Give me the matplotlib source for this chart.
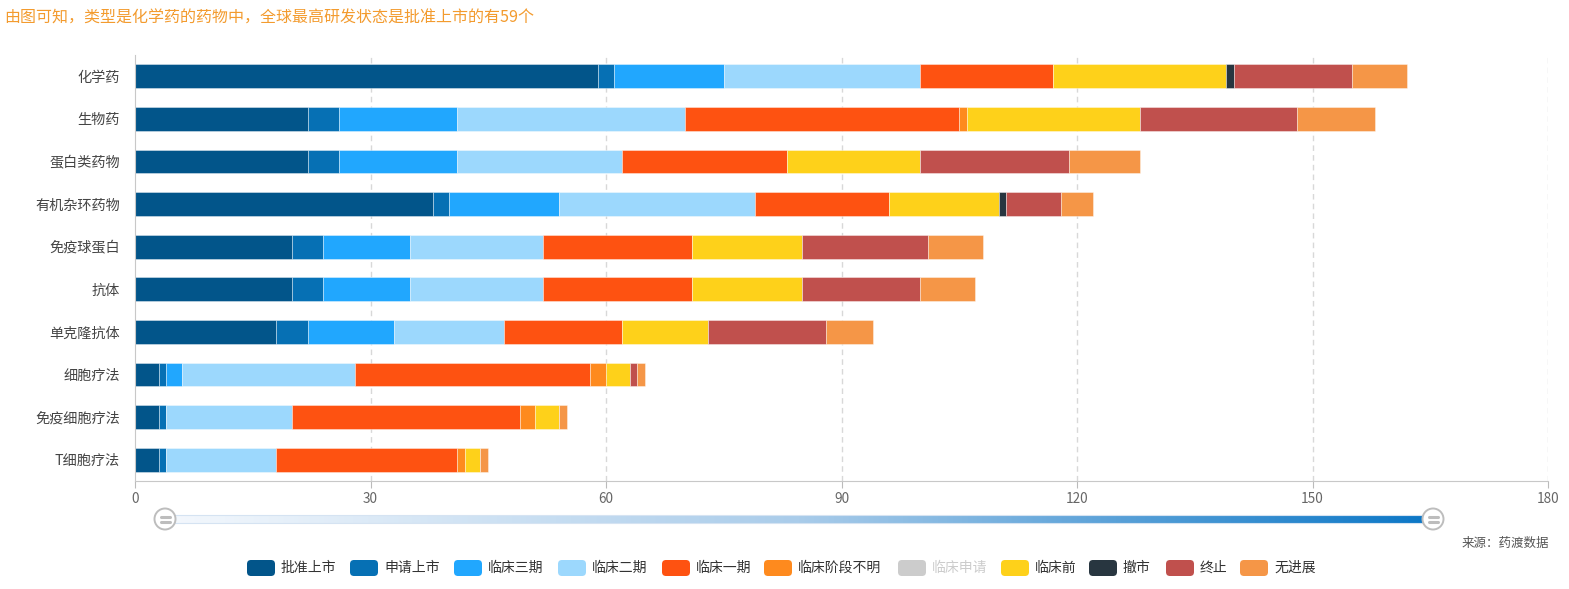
import matplotlib
matplotlib.use("Agg")
import matplotlib.pyplot as plt
import numpy as np
from matplotlib.patches import FancyBboxPatch, Rectangle, Circle
from matplotlib.colors import LinearSegmentedColormap

plt.rcParams['font.family'] = ['Noto Sans CJK SC', 'DejaVu Sans']

# ---------------- data ----------------
categories = ['化学药', '生物药', '蛋白类药物', '有机杂环药物', '免疫球蛋白',
              '抗体', '单克隆抗体', '细胞疗法', '免疫细胞疗法', 'T细胞疗法']
series_names = ['批准上市', '申请上市', '临床三期', '临床二期', '临床一期',
                '临床阶段不明', '临床申请', '临床前', '撤市', '终止', '无进展']
approved      = [59, 22, 22, 38, 20, 20, 18, 3, 3, 3]
applied       = [2, 4, 4, 2, 4, 4, 4, 1, 1, 1]
phase3        = [14, 15, 15, 14, 11, 11, 11, 2, 0, 0]
phase2        = [25, 29, 21, 25, 17, 17, 14, 22, 16, 14]
phase1        = [17, 35, 21, 17, 19, 19, 15, 30, 29, 23]
phase_unknown = [0, 1, 0, 0, 0, 0, 0, 2, 2, 1]
clinical_app  = [0, 0, 0, 0, 0, 0, 0, 0, 0, 0]
preclinical   = [22, 22, 17, 14, 14, 14, 11, 3, 3, 2]
withdrawn     = [1, 0, 0, 1, 0, 0, 0, 0, 0, 0]
terminated    = [15, 20, 19, 7, 16, 15, 15, 1, 0, 0]
no_progress   = [7, 10, 9, 4, 7, 7, 6, 1, 1, 1]
series_values = [approved, applied, phase3, phase2, phase1, phase_unknown,
                 clinical_app, preclinical, withdrawn, terminated, no_progress]
colors = ['#02558A', '#0670B4', '#21A7FE', '#9CD8FD', '#FE5211', '#FE8A1E',
          '#CCCCCC', '#FED11A', '#283640', '#C0504D', '#F59647']
disabled = [False, False, False, False, False, False, True, False, False, False, False]
x_ticks = [0, 30, 60, 90, 120, 150, 180]
title = '由图可知，类型是化学药的药物中，全球最高研发状态是批准上市的有59个'
source = '来源：药渡数据'

# ---------------- figure ----------------
W, H = 1569, 589
fig = plt.figure(figsize=(W / 100, H / 100), dpi=100)

ax_l, ax_r, ax_t, ax_b = 135, 1548, 55, 481
ax = fig.add_axes([ax_l / W, 1 - ax_b / H, (ax_r - ax_l) / W, (ax_b - ax_t) / H])

y = np.arange(len(categories))
left = np.zeros(len(categories))
for name, vals, col, dis in zip(series_names, series_values, colors, disabled):
    vals = np.array(vals, dtype=float)
    if not dis:
        ax.barh(y, vals, left=left, height=0.56, color=col,
                edgecolor=(1, 1, 1, 0.45), linewidth=0.6, zorder=3)
        left += vals

ax.set_ylim(len(categories) - 0.5, -0.5)
ax.set_xlim(0, 180)
ax.set_xticks(x_ticks)
ax.set_xticklabels([str(t) for t in x_ticks])
ax.set_yticks(y)
ax.set_yticklabels(categories)
ax.tick_params(axis='y', length=0, pad=11, labelsize=10.2, labelcolor='#444444')
ax.tick_params(axis='x', length=5, color='#BBBBBB', pad=3, labelsize=9.8,
               labelcolor='#666666')
for xv in x_ticks[1:]:
    ax.axvline(xv, color='#D8D8D8', linestyle=(0, (4, 3)), linewidth=1, zorder=1)
for s in ['top', 'right']:
    ax.spines[s].set_visible(False)
ax.spines['left'].set_color('#C8C8C8')
ax.spines['bottom'].set_color('#C8C8C8')
ax.spines['left'].set_zorder(4)

# ---------------- overlay (pixel coordinates) ----------------
ov = fig.add_axes([0, 0, 1, 1], zorder=-1)
ov.set_xlim(0, W)
ov.set_ylim(H, 0)
ov.axis('off')

ov.text(4, 18, title, color='#F39B2E', fontsize=11.5, va='center', ha='left')

# data-zoom slider
sx0, sx1, sy, sh = 165, 1433, 519, 8
grad = np.linspace(0, 1, 512).reshape(1, -1)
cmap = LinearSegmentedColormap.from_list('g', ['#F4F8FD', '#A9CCEA', '#0A76C6'])
ov.imshow(grad, cmap=cmap, extent=(sx0, sx1, sy + sh / 2, sy - sh / 2),
          aspect='auto', zorder=2)
ov.add_patch(Rectangle((sx0, sy - sh / 2), sx1 - sx0, sh, fill=False,
                       edgecolor='#D5E3F2', linewidth=0.8, zorder=3))
for hx in (sx0, sx1):
    ov.add_patch(Circle((hx, sy), 10.5, facecolor='white', edgecolor='#BDBDBD',
                        linewidth=1.4, zorder=4))
    ov.plot([hx - 4.5, hx + 4.5], [sy - 2.5, sy - 2.5], color='#BDBDBD', lw=2.2,
            solid_capstyle='round', zorder=5)
    ov.plot([hx - 4.5, hx + 4.5], [sy + 2.5, sy + 2.5], color='#BDBDBD', lw=2.2,
            solid_capstyle='round', zorder=5)
ov.set_xlim(0, W)
ov.set_ylim(H, 0)

ov.text(1549, 543, source, color='#555555', fontsize=9.0, ha='right', va='center')

# legend
leg_x = [247, 350, 454, 558, 662, 764, 898, 1001, 1089, 1166, 1240]
leg_y = 568
for lx, name, col, dis in zip(leg_x, series_names, colors, disabled):
    ov.add_patch(FancyBboxPatch((lx + 2, leg_y - 6), 24, 12,
                                boxstyle='round,pad=2,rounding_size=4',
                                facecolor=col, edgecolor='none', zorder=3))
    ov.text(lx + 34, leg_y, name, color='#CCCCCC' if dis else '#333333',
            fontsize=10.0, ha='left', va='center')

fig.savefig('out.png', dpi=100)
